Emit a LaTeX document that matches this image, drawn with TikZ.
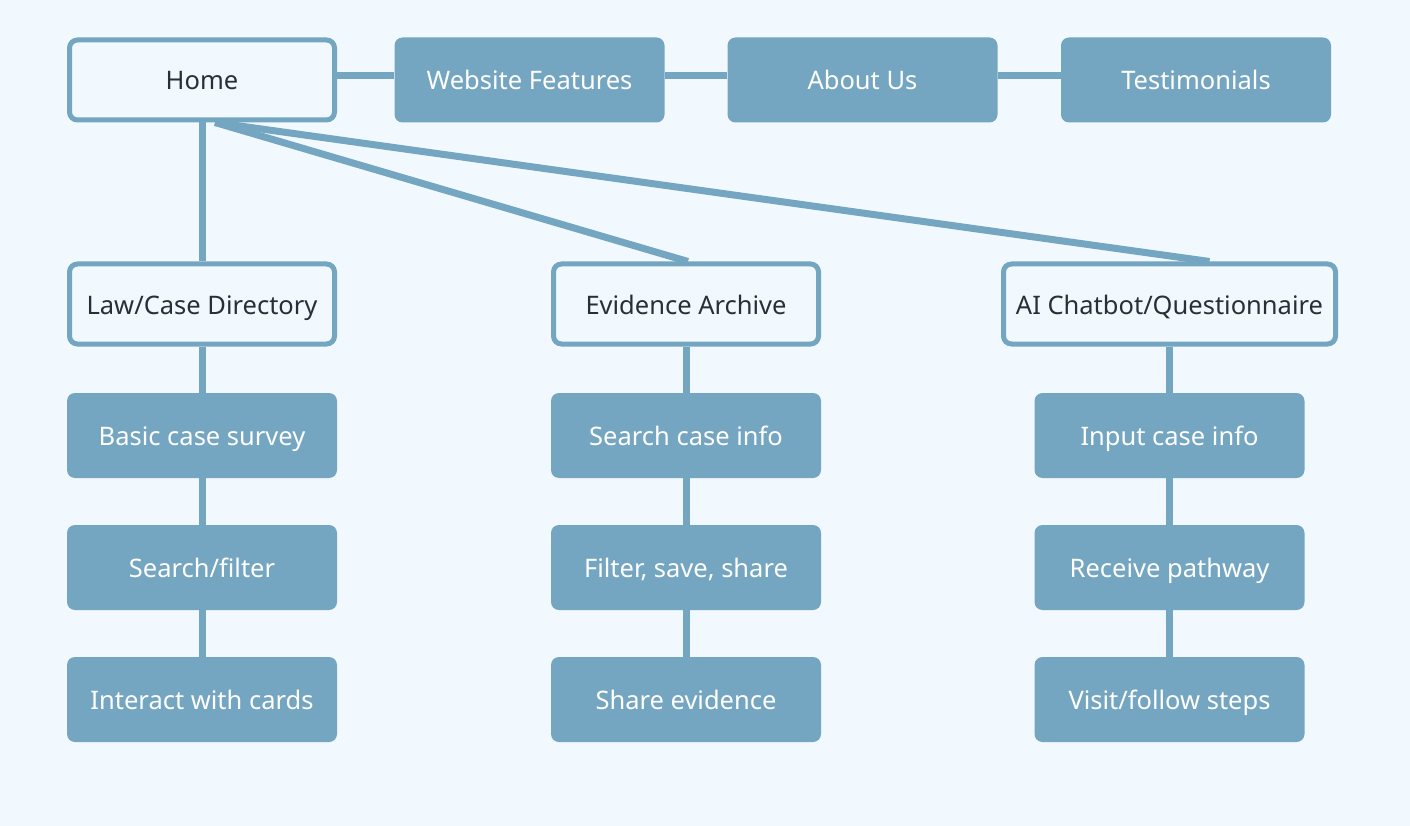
\documentclass[tikz,border=0pt]{standalone}
\usepackage{fontspec}
\setmainfont{Noto Sans}
\definecolor{pagebg}{HTML}{F1F9FE}
\definecolor{steel}{HTML}{74A5C1}
\definecolor{ink}{HTML}{2B2F33}
\begin{document}
\begin{tikzpicture}
  [x=1pt,y=-1pt,
   every node/.style={rounded corners=8pt,font=\fontsize{25.5}{30}\selectfont,inner sep=0pt,text height=21.5pt,text depth=1.5pt},
   pagebox/.style={draw=steel,line width=5pt,fill=pagebg,text=ink,minimum width=265pt,minimum height=80pt},
   itembox/.style={fill=steel,text=white,minimum width=270pt,minimum height=85pt},
   link/.style={draw=steel,line width=7pt}]
  \useasboundingbox[fill=pagebg] (0,0) rectangle (1410,826);
  % top row
  \node[pagebox] (home) at (202,80) {Home};
  \node[itembox] (feat) at (529.5,80) {Website Features};
  \node[itembox] (about) at (862.5,80) {About Us};
  \node[itembox] (testi) at (1196,80) {Testimonials};
  % sections
  \node[pagebox] (law) at (202,304) {Law/Case Directory};
  \node[pagebox] (evid) at (686,304) {Evidence Archive};
  \node[pagebox,minimum width=332pt] (chat) at (1169.5,304) {AI Chatbot/Questionnaire};
  % steps
  \node[itembox] (law1) at (202,435.5) {Basic case survey};
  \node[itembox] (law2) at (202,567.5) {Search/filter};
  \node[itembox] (law3) at (202,699.5) {Interact with cards};
  \node[itembox] (evid1) at (686,435.5) {Search case info};
  \node[itembox] (evid2) at (686,567.5) {Filter, save, share};
  \node[itembox] (evid3) at (686,699.5) {Share evidence};
  \node[itembox] (chat1) at (1169.5,435.5) {Input case info};
  \node[itembox] (chat2) at (1169.5,567.5) {Receive pathway};
  \node[itembox] (chat3) at (1169.5,699.5) {Visit/follow steps};
  \foreach \from/\to in {home/feat,feat/about,about/testi}
    \draw[link] ([yshift=4pt]\from.east) -- ([yshift=4pt]\to.west);
  \foreach \from/\to in {home/law,law/law1,law1/law2,law2/law3,evid/evid1,evid1/evid2,evid2/evid3,chat/chat1,chat1/chat2,chat2/chat3}
    \draw[link] (\from) -- (\to);
  \draw[link] ([xshift=13pt]home.south) -- ([xshift=2pt]evid.north);
  \draw[link] ([xshift=13pt]home.south) -- ([xshift=40pt]chat.north);
\end{tikzpicture}
\end{document}
